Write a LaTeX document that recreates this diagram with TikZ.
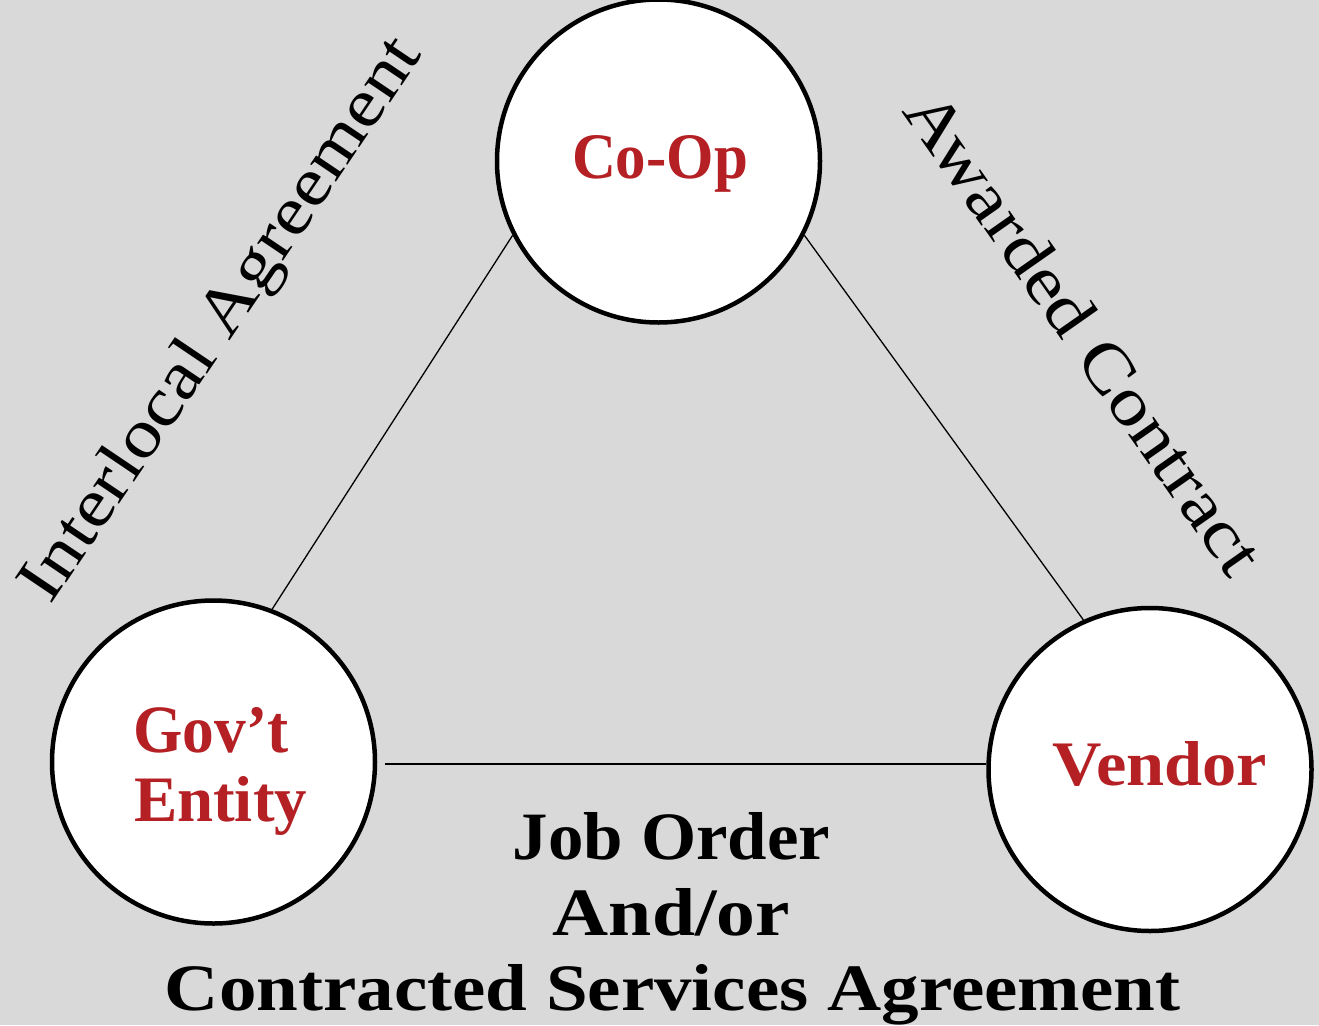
\documentclass[tikz,border=0pt]{standalone}
\usepackage{fontspec}
\setmainfont{Liberation Serif}
\usepackage{graphicx}
\definecolor{bg}{RGB}{217,217,217}
\definecolor{lab}{RGB}{180,32,36}
\begin{document}
\begin{tikzpicture}[x=1pt,y=-1pt,
  txt/.style={inner sep=0pt,outer sep=0pt},
  party/.style={circle,draw=black,fill=white,line width=4.5pt,minimum size=323pt,inner sep=0pt},
  link/.style={line width=1.3pt,draw=black},
  plab/.style={txt,text=lab,font=\bfseries},
  rel/.style={txt,text=black}]
\fill[bg] (0,0) rectangle (1319,1025);
\useasboundingbox (0,0) rectangle (1319,1025);
% circles
\node[party] (coop) at (658.5,161) {};
\node[party] (gov) at (213.5,762) {};
\node[party] (vendor) at (1150,769.5) {};
% connectors
\draw[link] (coop.207) -- (gov.69);
\draw[link] (coop.333) -- (vendor.114.5);
\coordinate (g) at ([shift={(8,2)}]gov.east);
\draw[link] (g) -- (g -| vendor.west);
% circle labels
\node[plab,anchor=base] (coopt) at (660,178) {\resizebox{176pt}{43pt}{Co-Op}};
\node[plab,anchor=base west] (govt1) at (133.5,752) {\resizebox{155pt}{45pt}{Gov’t}};
\node[plab,anchor=base west] (govt2) at (134,821.7) {\resizebox{173pt}{45pt}{Entity}};
\node[plab,anchor=base] (vendt) at (1160,785.7) {\resizebox{214pt}{44pt}{Vendor}};
% relation labels
\node[rel,anchor=base,rotate=56] (il) at (237,330) {\resizebox{665pt}{47pt}{Interlocal Agreement}};
\node[rel,anchor=base,rotate=-55] (ac) at (1066,346) {\resizebox{572pt}{47pt}{Awarded Contract}};
\node[rel,anchor=base,font=\bfseries] (jo1) at (671.5,859) {\resizebox{317pt}{47pt}{Job Order}};
\node[rel,anchor=base,font=\bfseries] (jo2) at (671.5,935) {\resizebox{237pt}{47pt}{And/or}};
\node[rel,anchor=base,font=\bfseries] (jo3) at (672.5,1010) {\resizebox{1015pt}{46pt}{Contracted Services Agreement}};
\end{tikzpicture}
\end{document}
